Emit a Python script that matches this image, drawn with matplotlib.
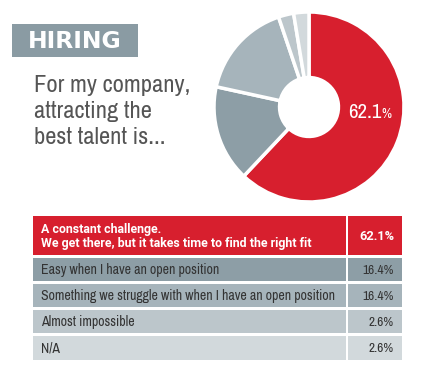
import matplotlib.pyplot as plt
from matplotlib.patches import Rectangle
from matplotlib import font_manager
from matplotlib.font_manager import FontProperties

labels = ["A constant challenge.\nWe get there, but it takes time to find the right fit",
          "Easy when I have an open position",
          "Something we struggle with when I have an open position",
          "Almost impossible",
          "N/A"]
values = [62.1, 16.4, 16.4, 2.6, 2.6]
colors = ["#d71f2e", "#8d9ea6", "#a6b4bb", "#bcc6cb", "#d2d9dc"]

# look for an upright narrow font (regular + bold)
cands = {}
for f in font_manager.fontManager.ttflist:
    n = (f.name + " " + str(f.stretch)).lower()
    if ("narrow" in n or "condensed" in n) and f.style == "normal":
        key = "bold" if f.weight in (700, "bold") else ("reg" if f.weight in (400, "normal", "regular") else None)
        if key:
            rank = 0 if "narrow" in n else 1
            cands.setdefault((f.name, rank), {})[key] = f.fname
fam = sorted(cands.items(), key=lambda kv: kv[0][1])
files = fam[0][1] if fam else {}

def fp(bold=False):
    k = "bold" if bold else "reg"
    if k in files:
        return FontProperties(fname=files[k])
    return FontProperties(family="Roboto", weight="bold" if bold else "normal")

W, H = 422, 384
fig = plt.figure(figsize=(W / 100, H / 100), dpi=100)
ax = fig.add_axes([0, 0, 1, 1])
ax.set_xlim(0, W)
ax.set_ylim(H, 0)
ax.axis("off")
rend = fig.canvas.get_renderer()

def fit(s, prop, target, size0=10):
    t = ax.text(0, 0, s, fontproperties=prop, fontsize=size0)
    w = t.get_window_extent(rend).width
    t.remove()
    return size0 * target / w

# heading
ax.add_patch(Rectangle((12, 24), 126, 33, color="#8a9ba3", lw=0))
hp = FontProperties(family="DejaVu Sans", weight="heavy")
ax.text(28, 41, "HIRING", color="white", fontproperties=hp,
        fontsize=fit("HIRING", hp, 94), va="center", ha="left")
sp = fp()
ss = fit("For my company,", sp, 156)
for i, line in enumerate(["For my company,", "attracting the", "best talent is..."]):
    ax.text(34, 92 + 26 * i, line, color="#555555", fontproperties=sp,
            fontsize=ss, va="baseline", ha="left")

# table
x0, xs, x1 = 33, 347, 402
heights = [39, 23, 23, 23, 24]
ls = fit(labels[2], fp(), 294)
lb = fit(labels[0].split("\n")[1], fp(True), 272)
vs = fit("16.4%", fp(), 31)
vb = fit("62.1%", fp(True), 35)
y = 216
for k, (lab, val, col, h) in enumerate(zip(labels, values, colors, heights)):
    ax.add_patch(Rectangle((x0, y), xs - x0 - 1, h, color=col, lw=0))
    ax.add_patch(Rectangle((xs + 1, y), x1 - xs - 1, h, color=col, lw=0))
    tc = "white" if k == 0 else "#333333"
    prop = fp(k == 0)
    ax.text(41, y + h / 2 + 0.5, lab, color=tc, fontproperties=prop,
            fontsize=lb if k == 0 else ls, va="center", ha="left", linespacing=1.1)
    ax.text(394, y + h / 2 + 0.5, f"{val:.1f}%", color=tc, fontproperties=prop,
            fontsize=vb if k == 0 else vs, va="center", ha="right")
    y += h + 3

# donut
cx, cy, r = 309, 107, 95
pax = fig.add_axes([(cx - r) / W, (H - cy - r) / H, 2 * r / W, 2 * r / H])
pax.pie(values, colors=colors, startangle=90, counterclock=False, radius=1,
        wedgeprops=dict(width=0.69, edgecolor="white", linewidth=2.5))
pax.set_xlim(-1, 1)
pax.set_ylim(-1, 1)
pax.set_aspect("equal")
pax.axis("off")
np_ = fp()
pax.text(0.41, -0.12, "62.1", color="white", fontproperties=np_,
         fontsize=fit("62.1", np_, 33), ha="left", va="baseline")
pax.text(0.76, -0.12, "%", color="white", fontproperties=np_,
         fontsize=fit("%", np_, 10), ha="left", va="baseline")

fig.savefig("out.png", dpi=100)
